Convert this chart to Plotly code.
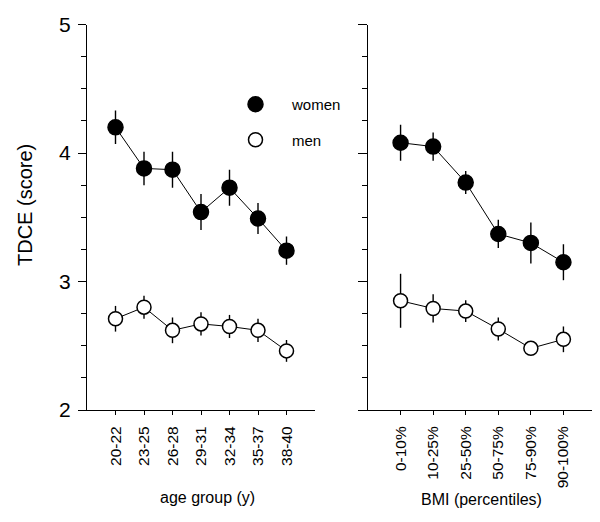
import plotly.graph_objects as go

# ---------------- data ----------------
age_groups = ["20-22", "23-25", "26-28", "29-31", "32-34", "35-37", "38-40"]
age_women = [4.20, 3.88, 3.87, 3.54, 3.73, 3.49, 3.24]
age_women_err = [0.13, 0.13, 0.14, 0.14, 0.14, 0.12, 0.11]
age_men = [2.71, 2.80, 2.62, 2.67, 2.65, 2.62, 2.46]
age_men_err = [0.10, 0.09, 0.10, 0.09, 0.09, 0.09, 0.085]

bmi_groups = ["0-10%", "10-25%", "25-50%", "50-75%", "75-90%", "90-100%"]
bmi_women = [4.08, 4.05, 3.77, 3.37, 3.30, 3.15]
bmi_women_err = [0.14, 0.11, 0.09, 0.11, 0.16, 0.14]
bmi_men = [2.85, 2.79, 2.77, 2.63, 2.48, 2.55]
bmi_men_err = [0.21, 0.11, 0.085, 0.09, 0.0, 0.10]

y_ticks = [2, 3, 4, 5]

FONT = "Liberation Sans, Arial, sans-serif"

fig = go.Figure()


def add_series(xcats, y, err, filled, xa, ya):
    fig.add_trace(go.Scatter(
        x=list(range(len(xcats))), y=y,
        mode="lines+markers",
        line=dict(color="black", width=1),
        marker=dict(size=15 if filled else 14,
                    color="black" if filled else "white",
                    line=dict(color="black", width=1.5)),
        error_y=dict(type="data", array=err, visible=True,
                     color="black", thickness=1.4, width=0),
        xaxis=xa, yaxis=ya, showlegend=False, hoverinfo="skip",
    ))


add_series(age_groups, age_women, age_women_err, True, "x", "y")
add_series(age_groups, age_men, age_men_err, False, "x", "y")
add_series(bmi_groups, bmi_women, bmi_women_err, True, "x2", "y2")
add_series(bmi_groups, bmi_men, bmi_men_err, False, "x2", "y2")

# legend-only traces
fig.add_trace(go.Scatter(x=[None], y=[None], mode="markers", name="women",
                         legendgroup="w",
                         marker=dict(size=15, color="black",
                                     line=dict(color="black", width=1.5))))
fig.add_trace(go.Scatter(x=[None], y=[None], mode="markers", name="men",
                         legendgroup="m",
                         marker=dict(size=14, color="white",
                                     line=dict(color="black", width=1.5))))

W, H = 600, 522
OFF = 8  # page body margin offset
y_top, y_bot = 24.5 - OFF, 410 - OFF


def px(x):
    return (x - OFF) / W


def py(y):
    return 1 - (y - OFF) / H


xcommon = dict(showline=True, linecolor="black", linewidth=1.2,
               ticks="outside", ticklen=4, tickcolor="black", tickwidth=1.2,
               tickangle=-90,
               tickfont=dict(size=15.5, color="black", family=FONT),
               ticklabelstandoff=5,
               showgrid=False, zeroline=False, tickmode="array",
               automargin=False)
ycommon = dict(range=[2, 5], showline=True, linecolor="black", linewidth=1.2,
               ticks="outside", ticklen=8, tickcolor="black", tickwidth=1.2,
               tickmode="array", tickvals=y_ticks,
               minor=dict(dtick=0.25, ticks="outside", ticklen=5,
                          tickcolor="black", tickwidth=1.2),
               showgrid=False, zeroline=False, automargin=False,
               domain=[1 - y_bot / H, 1 - y_top / H])

fig.update_layout(
    width=W, height=H,
    margin=dict(l=0, r=0, t=0, b=0),
    paper_bgcolor="white", plot_bgcolor="white",
    font=dict(family=FONT, color="black"),
    xaxis=dict(xcommon, domain=[px(87), px(315)], range=[-1, 7],
               tickvals=list(range(len(age_groups))), ticktext=age_groups,
               anchor="y"),
    yaxis=dict(ycommon, anchor="x", ticktext=[str(v) for v in y_ticks],
               tickfont=dict(size=21, color="black", family=FONT),
               ticklabelstandoff=3),
    xaxis2=dict(xcommon, domain=[px(368), px(596)], range=[-1, 6],
                tickvals=list(range(len(bmi_groups))), ticktext=bmi_groups,
                anchor="y2"),
    yaxis2=dict(ycommon, anchor="x2", showticklabels=False, ticklen=9),
    legend=dict(x=px(219), y=py(88), xanchor="left", yanchor="top",
                font=dict(size=15, color="black", family=FONT),
                itemwidth=63, tracegroupgap=13, bgcolor="rgba(0,0,0,0)",
                itemsizing="trace"),
    annotations=[
        dict(text="TDCE (score)", x=px(25), y=py(205), xref="paper",
             yref="paper", textangle=-90, showarrow=False,
             xanchor="center", yanchor="middle",
             font=dict(size=20, color="black", family=FONT)),
        dict(text="age group (y)", x=px(207.5), y=py(497), xref="paper",
             yref="paper", showarrow=False,
             xanchor="center", yanchor="middle",
             font=dict(size=16, color="black", family=FONT)),
        dict(text="BMI (percentiles)", x=px(481), y=py(499), xref="paper",
             yref="paper", showarrow=False,
             xanchor="center", yanchor="middle",
             font=dict(size=16, color="black", family=FONT)),
    ],
)

fig.write_html("out.html")
